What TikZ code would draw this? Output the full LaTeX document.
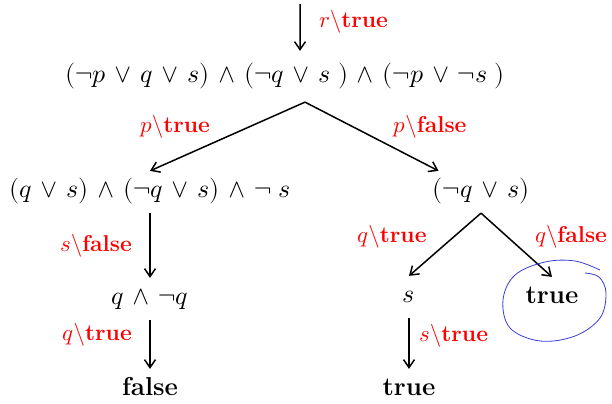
\documentclass[tikz,border=0pt]{standalone}
\usepackage{amsmath}
\usepackage{unicode-math}
\usetikzlibrary{positioning,arrows.meta}
\definecolor{penblue}{RGB}{55,60,215}
\newcommand{\asg}[2]{$#1$\textbackslash\textbf{#2}}
\tikzset{
  fml/.style={font=\fontsize{26}{30}\selectfont,
              execute at begin node={\medmuskip=6mu\relax},
              text height=19pt,text depth=7pt,inner xsep=2pt,inner ysep=8pt},
  res/.style={font=\fontsize{26}{30}\selectfont\bfseries,
              text height=19pt,text depth=7pt,inner xsep=2pt,inner ysep=8pt},
  lbl/.style={text=red,font=\fontsize{23}{26}\selectfont,inner sep=1pt},
  arr/.style={-{Straight Barb[length=8pt,width=11pt]},line width=1.5pt},
  pen/.style={penblue,line width=0.8pt},
}
\begin{document}
\begin{tikzpicture}[x=1bp,y=-1bp]
    \useasboundingbox (0,0) rectangle (612,403);
    % top level
    \coordinate (start) at (300,4);
    \node[fml] (root) at (285,77) {$(\neg p \vee q \vee s) \wedge (\neg q \vee s\;) \wedge (\neg p \vee \neg s\;)$};
    \coordinate (fork1) at ([xshift=20bp,yshift=-4bp]root.south);
    \node[lbl,anchor=west] (lr) at (318,22) {\asg{r}{true}};
    % second level
    \node[fml] (left) at (150,192) {$(q \vee s) \wedge (\neg q \vee s) \wedge \neg\; s$};
    \node[fml] (right) at (481,192) {$(\neg q \vee s)$};
    \node[lbl] (lpt) at (175,127) {\asg{p}{true}};
    \node[lbl] (lpf) at (430,127) {\asg{p}{false}};
    % left branch
    \node[fml] (qnq) at (150,299) {$q \wedge \neg q$};
    \node[res] (lfalse) at (150,390) {false};
    \node[lbl,anchor=east] (lsf) at (133,246) {\asg{s}{false}};
    \node[lbl,anchor=east] (lqt) at (133,335) {\asg{q}{true}};
    % right branch
    \node[fml] (sn) at (409,297) {$s$};
    \node[res] (rtrue) at (552,298) {true};
    \node[res] (strue) at (409,390) {true};
    \node[lbl] (rqt) at (392,237) {\asg{q}{true}};
    \node[lbl] (rqf) at (571,237) {\asg{q}{false}};
    \node[lbl,anchor=west] (rst) at (418,336) {\asg{s}{true}};
    % connectors
    \draw[arr] (start) -- ([xshift=15bp,yshift=5bp]root.north);
    \draw[arr] (fork1) -- (left.north);
    \draw[arr] (fork1) -- ([xshift=8bp]right.north west);
    \draw[arr] (left.south) -- (qnq.north);
    \draw[arr] (qnq.south) -- (lfalse.north);
    \draw[arr] (right.south) -- (sn.north);
    \draw[arr] (right.south) -- (rtrue.north);
    \draw[arr] (sn.south) -- (strue.north);
    % hand-drawn ring
    \draw[pen] plot[smooth,tension=0.6] coordinates {(585,273) (599,277) (606,293) (600,318) (575,336) (540,341) (510,328) (503,300) (515,275) (545,262) (575,261) (600,270)};
\end{tikzpicture}
\end{document}
